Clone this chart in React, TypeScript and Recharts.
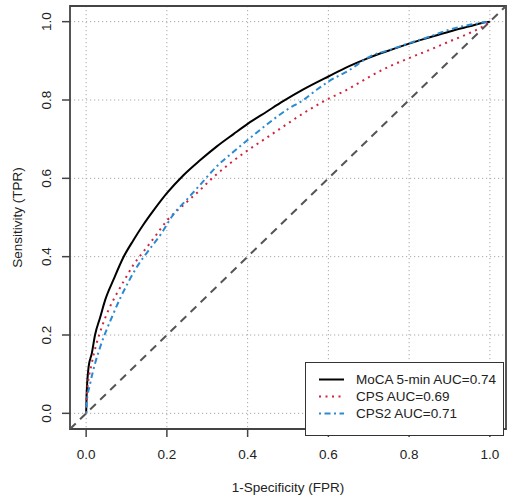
import {
  LineChart,
  Line,
  XAxis,
  YAxis,
  CartesianGrid,
  ReferenceArea,
  Legend,
} from "recharts";

// ROC points (FPR, TPR)
const mocaFpr = [0, 0.001, 0.003, 0.006, 0.014, 0.022, 0.035, 0.047, 0.068, 0.092, 0.117, 0.142, 0.167, 0.2, 0.241, 0.282, 0.323, 0.365, 0.4, 0.447, 0.488, 0.538, 0.6, 0.653, 0.703, 0.752, 0.8, 0.851, 0.901, 0.95, 0.992, 1];
const mocaTpr = [0, 0.042, 0.084, 0.118, 0.153, 0.2, 0.246, 0.289, 0.342, 0.398, 0.442, 0.482, 0.518, 0.562, 0.608, 0.646, 0.681, 0.713, 0.739, 0.77, 0.797, 0.827, 0.86, 0.887, 0.909, 0.927, 0.944, 0.96, 0.975, 0.988, 0.999, 1];

const cpsFpr = [0, 0.002, 0.014, 0.026, 0.039, 0.055, 0.076, 0.097, 0.117, 0.142, 0.171, 0.2, 0.241, 0.282, 0.315, 0.356, 0.394, 0.439, 0.488, 0.538, 0.587, 0.653, 0.703, 0.752, 0.8, 0.851, 0.901, 0.95, 0.983, 1];
const cpsTpr = [0, 0.051, 0.128, 0.179, 0.221, 0.263, 0.306, 0.344, 0.379, 0.413, 0.452, 0.492, 0.532, 0.57, 0.603, 0.638, 0.667, 0.698, 0.732, 0.766, 0.796, 0.83, 0.86, 0.886, 0.907, 0.928, 0.95, 0.971, 0.988, 1];

const cps2Fpr = [0, 0.001, 0.01, 0.022, 0.035, 0.047, 0.064, 0.084, 0.105, 0.129, 0.154, 0.187, 0.212, 0.253, 0.282, 0.323, 0.365, 0.4, 0.447, 0.497, 0.538, 0.571, 0.6, 0.653, 0.703, 0.752, 0.8, 0.851, 0.901, 0.95, 1];
const cps2Tpr = [0, 0.025, 0.076, 0.127, 0.17, 0.204, 0.246, 0.293, 0.336, 0.379, 0.415, 0.46, 0.502, 0.55, 0.583, 0.63, 0.668, 0.698, 0.737, 0.775, 0.8, 0.826, 0.847, 0.877, 0.911, 0.928, 0.945, 0.962, 0.98, 0.992, 1];

// chance line y = x across the whole box
const chanceFpr = [-0.04, 1.04];

const axisTicks = [0, 0.2, 0.4, 0.6, 0.8, 1];
const axisDomain = [-0.04, 1.04];

const toPoints = (fpr: number[], tpr: number[]) =>
  fpr.map((f, i) => ({ fpr: f, tpr: tpr[i] }));

const FONT = "'Liberation Sans', Arial, sans-serif";
const TEXT = "#222";
const AXIS = "#444";

const series = [
  { name: "MoCA 5-min AUC=0.74", data: toPoints(mocaFpr, mocaTpr), color: "#000000", dash: undefined },
  { name: "CPS AUC=0.69", data: toPoints(cpsFpr, cpsTpr), color: "#d0233f", dash: "2 4.5" },
  { name: "CPS2 AUC=0.71", data: toPoints(cps2Fpr, cps2Tpr), color: "#2a8ad2", dash: "2 3.5 6 3.5" },
];

const fmt = (v: number) => v.toFixed(1);

function YTick({ x, y, payload }: any) {
  return (
    <text
      x={x}
      y={y}
      transform={`rotate(-90, ${x}, ${y})`}
      textAnchor="middle"
      fill={TEXT}
      fontSize={13.5}
      fontFamily={FONT}
    >
      {fmt(payload.value)}
    </text>
  );
}

function YLabel({ viewBox }: any) {
  const x = viewBox.x + 22;
  const y = viewBox.y + viewBox.height / 2;
  return (
    <text
      x={x}
      y={y}
      transform={`rotate(-90, ${x}, ${y})`}
      textAnchor="middle"
      fill={TEXT}
      fontSize={13.5}
      fontFamily={FONT}
    >
      Sensitivity (TPR)
    </text>
  );
}

function LegendBox() {
  return (
    <div
      style={{
        width: 197,
        height: 64,
        border: "1px solid #333",
        background: "#fff",
        fontFamily: FONT,
        fontSize: 13.5,
        color: TEXT,
        paddingTop: 8,
        boxSizing: "content-box",
      }}
    >
      {series.map((s) => (
        <div key={s.name} style={{ display: "flex", alignItems: "center", height: 17 }}>
          <svg width={50} height={17}>
            <line
              x1={13}
              x2={38}
              y1={8.5}
              y2={8.5}
              stroke={s.color}
              strokeWidth={2}
              strokeDasharray={s.dash}
            />
          </svg>
          <span>{s.name}</span>
        </div>
      ))}
    </div>
  );
}

export default function App() {
  return (
    <div style={{ position: "absolute", left: 0, top: 0, width: 510, height: 500, background: "#fff" }}>
      <LineChart
        width={510}
        height={500}
        margin={{ top: 6, right: 4, left: 0, bottom: 0 }}
      >
        <CartesianGrid
          stroke="#a8a8a8"
          strokeDasharray="1.2 2.8"
          horizontalValues={axisTicks}
          verticalValues={axisTicks}
        />
        <XAxis
          type="number"
          dataKey="fpr"
          domain={axisDomain}
          ticks={axisTicks}
          allowDataOverflow
          height={71}
          axisLine={false}
          tickLine={{ stroke: AXIS, strokeWidth: 1.5 }}
          tickSize={8}
          tickMargin={12}
          tickFormatter={fmt}
          tick={{ fill: TEXT, fontSize: 13.5, fontFamily: FONT }}
          label={{
            value: "1-Specificity (FPR)",
            position: "insideBottom",
            offset: 8,
            fill: TEXT,
            fontSize: 13.5,
            fontFamily: FONT,
          }}
        />
        <YAxis
          type="number"
          domain={axisDomain}
          ticks={axisTicks}
          allowDataOverflow
          width={70}
          axisLine={false}
          tickLine={{ stroke: AXIS, strokeWidth: 1.5 }}
          tickSize={8}
          tickMargin={11}
          tick={<YTick />}
          label={<YLabel />}
        />
        <Line
          data={toPoints(chanceFpr, chanceFpr)}
          dataKey="tpr"
          stroke="#555"
          strokeWidth={2}
          strokeDasharray="8 6"
          dot={false}
          legendType="none"
          isAnimationActive={false}
        />
        {series.map((s) => (
          <Line
            key={s.name}
            name={s.name}
            data={s.data}
            dataKey="tpr"
            type="monotone"
            stroke={s.color}
            strokeWidth={2}
            strokeDasharray={s.dash}
            dot={false}
            isAnimationActive={false}
          />
        ))}
        <ReferenceArea
          x1={axisDomain[0]}
          x2={axisDomain[1]}
          y1={axisDomain[0]}
          y2={axisDomain[1]}
          fill="none"
          stroke={AXIS}
          strokeWidth={1.8}
          ifOverflow="visible"
        />
        <Legend
          layout="vertical"
          align="center"
          verticalAlign="middle"
          content={<LegendBox />}
          wrapperStyle={{ position: "absolute", left: 305, top: 362, width: "auto", height: "auto" }}
        />
      </LineChart>
    </div>
  );
}
